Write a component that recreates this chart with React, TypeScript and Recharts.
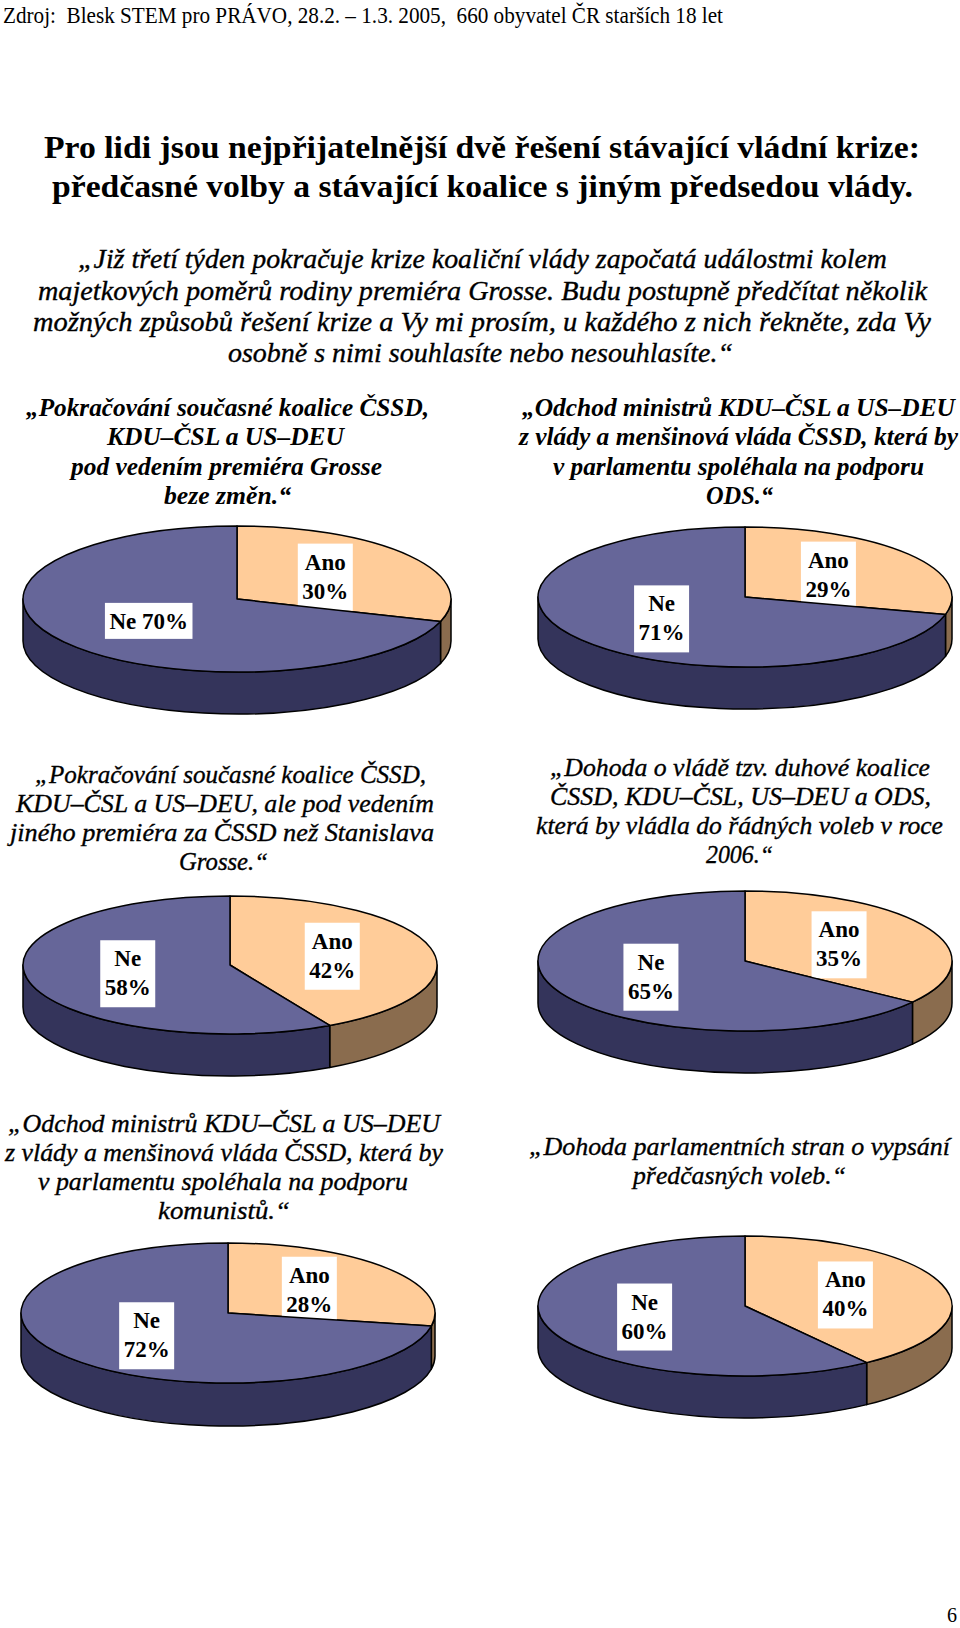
import { PieChart, Pie } from 'recharts';

const answers = ['Ano', 'Ne'];
const anoShare = [30, 29, 42, 35, 28, 40];
const neShare = [70, 71, 58, 65, 72, 60];

const sourceNote = 'Zdroj:  Blesk STEM pro PRÁVO, 28.2. – 1.3. 2005,  660 obyvatel ČR starších 18 let';
const headline = [
  'Pro lidi jsou nejpřijatelnější dvě řešení stávající vládní krize:',
  'předčasné volby a stávající koalice s jiným předsedou vlády.',
];
const intro = [
  '„Již třetí týden pokračuje krize koaliční vlády započatá událostmi kolem',
  'majetkových poměrů rodiny premiéra Grosse. Budu postupně předčítat několik',
  'možných způsobů řešení krize a Vy mi prosím, u každého z nich řekněte, zda Vy',
  'osobně s nimi souhlasíte nebo nesouhlasíte.“',
];
const questions = [
  ['„Pokračování současné koalice ČSSD,', 'KDU–ČSL a US–DEU', 'pod vedením premiéra Grosse', 'beze změn.“'],
  ['„Odchod ministrů KDU–ČSL a US–DEU', 'z vlády a menšinová vláda ČSSD, která by', 'v parlamentu spoléhala na podporu', 'ODS.“'],
  ['„Pokračování současné koalice ČSSD,', 'KDU–ČSL a US–DEU, ale pod vedením', 'jiného premiéra za ČSSD než Stanislava', 'Grosse.“'],
  ['„Dohoda o vládě tzv. duhové koalice', 'ČSSD, KDU–ČSL, US–DEU a ODS,', 'která by vládla do řádných voleb v roce', '2006.“'],
  ['„Odchod ministrů KDU–ČSL a US–DEU', 'z vlády a menšinová vláda ČSSD, která by', 'v parlamentu spoléhala na podporu', 'komunistů.“'],
  ['„Dohoda parlamentních stran o vypsání', 'předčasných voleb.“'],
];
const pageNumber = '6';

// layout: [left, width, baseline] per line
const headlineLayout = [[44, 876, 158], [52, 861, 197]];
const introLayout = [[78, 809, 268], [38, 889, 300], [33, 898, 331], [228, 505, 362]];
const questionLayout = [
  [[26, 403, 416], [107, 237, 445], [71, 311, 475], [164, 127, 504]],
  [[522, 433, 416], [519, 439, 445], [553, 371, 475], [706, 67, 504]],
  [[35, 391, 783], [16, 418, 812], [10, 424, 841], [179, 89, 870]],
  [[550, 380, 776], [550, 381, 805], [536, 407, 834], [706, 67, 863]],
  [[8, 432, 1132], [5, 438, 1161], [38, 370, 1190], [158, 132, 1219]],
  [[529, 421, 1155], [633, 213, 1184]],
];
const questionBold = [true, true, false, false, false, false];

const pieLayout = [
  { cx: 232, cy: 594, rx: 214, ry: 73, depth: 42 },
  { cx: 740, cy: 592, rx: 207, ry: 70, depth: 42 },
  { cx: 225, cy: 960, rx: 207, ry: 69, depth: 42 },
  { cx: 740, cy: 956, rx: 207, ry: 70, depth: 42 },
  { cx: 223, cy: 1308, rx: 207, ry: 70, depth: 43 },
  { cx: 740, cy: 1301, rx: 207, ry: 70, depth: 42 },
];
// labels drawn on one line ("Ne 70%") instead of two
const singleLineLabels = ['0-Ne'];

const topColor: Record<string, string> = { Ano: '#FFCC99', Ne: '#666699' };
const sideColor: Record<string, string> = { Ano: '#8A6C4E', Ne: '#34345B' };

const RAD = Math.PI / 180;
const FONT = '"Liberation Serif", "Times New Roman", serif';
const LABEL_SIZE = 23;

// Times bold advance widths, em
const charW: Record<string, number> = { A: 0.722, N: 0.722, n: 0.556, o: 0.5, e: 0.444, ' ': 0.25, '%': 1 };
const textWidth = (s: string) =>
  s.split('').reduce((w, c) => w + (charW[c] ?? 0.5), 0) * LABEL_SIZE;

function sliceRenderer(chart: number) {
  const geo = pieLayout[chart];
  return (p: any) => {
    const { cx, cy, startAngle, endAngle, value } = p;
    const name: string = p.name ?? p.payload?.name;
    const { rx, ry, depth } = geo;
    const pt = (a: number, dy = 0) =>
      `${(cx + rx * Math.cos(a * RAD)).toFixed(2)},${(cy - ry * Math.sin(a * RAD) + dy).toFixed(2)}`;
    const hi = Math.max(startAngle, endAngle);
    const lo = Math.min(startAngle, endAngle);
    const large = hi - lo > 180 ? 1 : 0;
    const top = `M${cx},${cy} L${pt(hi)} A${rx},${ry} 0 ${large} 1 ${pt(lo)} Z`;

    // visible wall: parts of the arc on the front half
    const walls: string[] = [];
    for (let k = -2; k <= 1; k++) {
      const h = Math.min(hi, 360 * k);
      const l = Math.max(lo, 360 * k - 180);
      if (h - l > 0.01) {
        walls.push(
          `M${pt(h)} A${rx},${ry} 0 0 1 ${pt(l)} L${pt(l, depth)} A${rx},${ry} 0 0 0 ${pt(h, depth)} Z`
        );
      }
    }

    const mid = (hi + lo) / 2;
    const lx = cx + 0.51 * rx * Math.cos(mid * RAD);
    const ly = cy - 0.51 * ry * Math.sin(mid * RAD);
    const lines = singleLineLabels.includes(`${chart}-${name}`) ? [`${name} ${value}%`] : [name, `${value}%`];
    const bw = Math.max(...lines.map(textWidth)) + 9;
    const bh = lines.length === 1 ? 36 : 67;

    return (
      <g>
        {walls.map((d, i) => (
          <path key={i} d={d} fill={sideColor[name]} stroke="#000" strokeWidth={1.5} strokeLinejoin="round" />
        ))}
        <path d={top} fill={topColor[name]} stroke="#000" strokeWidth={1.5} strokeLinejoin="round" />
        <rect x={lx - bw / 2} y={ly - bh / 2} width={bw} height={bh} fill="#fff" />
        {lines.map((t, i) => (
          <text
            key={i}
            x={lx}
            y={ly - bh / 2 + 26 + i * 29}
            textAnchor="middle"
            fontFamily={FONT}
            fontWeight="bold"
            fontSize={LABEL_SIZE}
            fill="#000"
          >
            {t}
          </text>
        ))}
      </g>
    );
  };
}

function Lines({ text, layout, size, bold, italic }: { text: string[]; layout: number[][]; size: number; bold?: boolean; italic?: boolean }) {
  return (
    <>
      {text.map((t, i) => (
        <text
          key={i}
          x={layout[i][0]}
          y={layout[i][2]}
          textLength={layout[i][1]}
          lengthAdjust="spacingAndGlyphs"
          fontFamily={FONT}
          fontSize={size}
          fontWeight={bold ? 'bold' : 'normal'}
          fontStyle={italic ? 'italic' : 'normal'}
          fill="#000"
          stroke={bold ? 'none' : '#000'}
          strokeWidth={bold ? 0 : 0.35}
        >
          {t}
        </text>
      ))}
    </>
  );
}

export default function App() {
  return (
    <div style={{ position: 'absolute', left: 0, top: 0, width: 960, height: 1628, background: '#fff' }}>
      <div style={{ position: 'absolute', left: 0, top: 0 }}>
        <PieChart width={960} height={1628}>
          {pieLayout.map((g, i) => (
            <Pie
              key={i}
              data={[
                { name: answers[0], value: anoShare[i] },
                { name: answers[1], value: neShare[i] },
              ]}
              dataKey="value"
              nameKey="name"
              cx={g.cx}
              cy={g.cy}
              outerRadius={g.rx}
              startAngle={90}
              endAngle={-270}
              fill="none"
              stroke="none"
              label={sliceRenderer(i)}
              labelLine={false}
              isAnimationActive={false}
            />
          ))}
        </PieChart>
      </div>
      <svg width={960} height={1628} style={{ position: 'absolute', left: 0, top: 0, pointerEvents: 'none' }}>
        <text x={3} y={23} textLength={720} lengthAdjust="spacingAndGlyphs" fontFamily={FONT} fontSize={24} style={{ whiteSpace: 'pre' }}>
          {sourceNote}
        </text>
        <Lines text={headline} layout={headlineLayout} size={32} bold />
        <Lines text={intro} layout={introLayout} size={27} italic />
        {questions.map((q, i) => (
          <Lines key={i} text={q} layout={questionLayout[i]} size={questionBold[i] ? 25 : 26} bold={questionBold[i]} italic />
        ))}
        <text x={947} y={1622} fontFamily={FONT} fontSize={20}>
          {pageNumber}
        </text>
      </svg>
    </div>
  );
}
